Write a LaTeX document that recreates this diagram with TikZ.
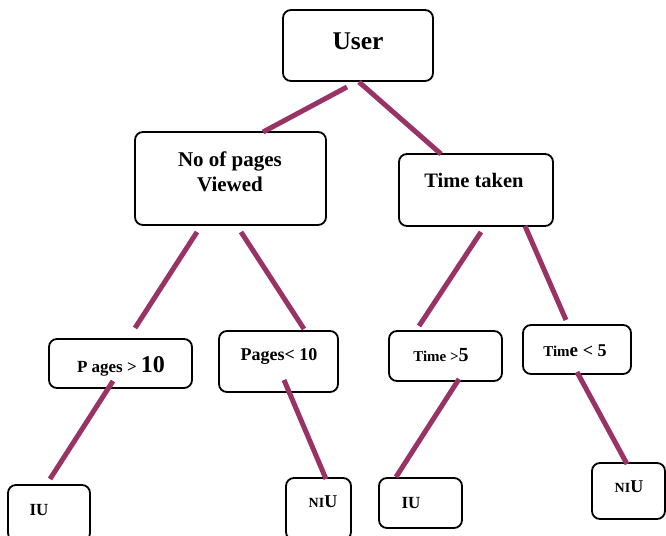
\documentclass[tikz,border=0pt]{standalone}
\usepackage{fontspec}
\setmainfont{Liberation Serif}
\definecolor{plum}{RGB}{153,51,102}
\newcommand\fsz[2]{\fontsize{#1}{#2}\selectfont}
\begin{document}
\begin{tikzpicture}[x=1pt,y=-1pt,
  box/.style={draw,line width=1.8pt,rounded corners=8pt,inner sep=0pt},
  conn/.style={draw=plum,line width=5pt},
  lbl/.style={font=\bfseries,inner sep=0pt,align=center}]
\useasboundingbox (0,0) rectangle (666,535);
\clip (0,0) rectangle (666,535);
% boxes
\node[box,minimum width=150pt,minimum height=71pt] (user) at (358,45.5) {};
\node[box,minimum width=191pt,minimum height=93pt] (nop) at (230.5,178.5) {};
\node[box,minimum width=154pt,minimum height=72pt] (tt) at (476,190) {};
\node[box,minimum width=143pt,minimum height=49pt] (pg) at (120.5,363.5) {};
\node[box,minimum width=119pt,minimum height=61pt] (pl) at (278.5,361.5) {};
\node[box,minimum width=113pt,minimum height=50pt] (tg) at (445.5,356) {};
\node[box,minimum width=108pt,minimum height=49pt] (tl) at (577,349.5) {};
\node[box,minimum width=82pt,minimum height=56pt] (iua) at (49,513) {};
\node[box,minimum width=65pt,minimum height=62pt] (niua) at (318.5,509) {};
\node[box,minimum width=83pt,minimum height=50pt] (iub) at (420.5,503) {};
\node[box,minimum width=73pt,minimum height=56pt] (niub) at (628.5,491) {};
% labels
\node[lbl] (userT) at (358,41) {\fsz{25.5}{30}User};
\node[lbl,font=\bfseries\fsz{21}{25}] (nopT) at (230,172) {No of pages\\Viewed};
\node[lbl] (ttT) at (474,180) {\fsz{20.5}{25}Time taken};
\node[lbl] (pgT) at (121,366) {\fsz{17}{20}P ages > \fsz{24}{28}10};
\node[lbl] (plT) at (279,356) {\fsz{18}{22}Pages< 10};
\node[lbl] (tgT) at (441,355) {\fsz{15}{18}Time >\fsz{20}{24}5};
\node[lbl] (tlT) at (575,351) {\fsz{15}{18}Tim\fsz{19}{22}e \fsz{18}{22}< 5};
\node[lbl] (iuaT) at (39,510) {\fsz{17}{20}IU};
\node[lbl] (niuaT) at (323,502) {\fsz{14}{17}NI\fsz{18}{22}U};
\node[lbl] (iubT) at (411,503) {\fsz{17}{20}IU};
\node[lbl] (niubT) at (629,487) {\fsz{14}{17}NI\fsz{18}{22}U};
% connector ends
\coordinate (c1a) at (347,87);  \coordinate (c1b) at (263,132);
\coordinate (c2a) at (359,82);  \coordinate (c2b) at (441,154);
\coordinate (c3a) at (197,232); \coordinate (c3b) at (135,328);
\coordinate (c4a) at (241,232); \coordinate (c4b) at (304,329);
\coordinate (c5a) at (481,232); \coordinate (c5b) at (419,326);
\coordinate (c6a) at (525,226); \coordinate (c6b) at (566,320);
\coordinate (c7a) at (113,381); \coordinate (c7b) at (50,479);
\coordinate (c8a) at (284,380); \coordinate (c8b) at (326,479);
\coordinate (c9a) at (459,379); \coordinate (c9b) at (396,477);
\coordinate (c10a) at (577,372); \coordinate (c10b) at (627,464);
\foreach \i in {1,...,10} {\draw[conn] (c\i a) -- (c\i b);}
\end{tikzpicture}
\end{document}
